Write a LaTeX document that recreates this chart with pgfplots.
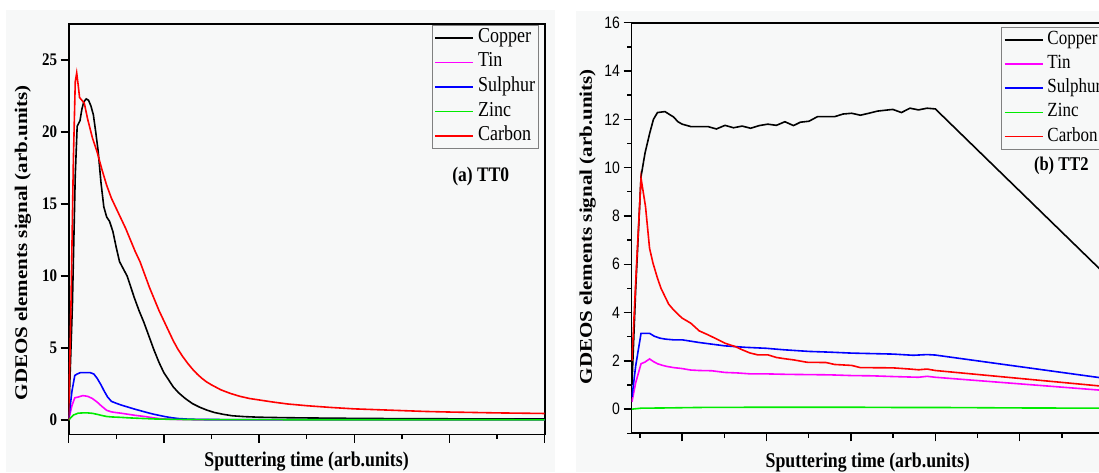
\documentclass[border=0pt]{standalone}
\usepackage{fontspec}
\setmainfont{Liberation Serif}
\newfontfamily\arialfont{Liberation Sans}
\usepackage{graphicx}
\usepackage{pgfplots}
\pgfplotsset{compat=1.18}
\definecolor{bg}{RGB}{247,248,248}
\definecolor{mag}{RGB}{255,0,255}
\definecolor{grn}{RGB}{0,235,0}
\definecolor{blu}{RGB}{0,0,255}
\definecolor{rd}{RGB}{255,0,0}
\newcommand{\vs}[1]{\scalebox{1}[1.18]{#1}}
\newcommand{\hs}[1]{\scalebox{1.18}[1]{#1}}
\pgfplotsset{
  common/.style={
    scale only axis, anchor=south west,
    axis line style={line width=1.8pt},
    tick align=outside, tick pos=left,
    tick style={black, line width=1.4pt},
    major tick length=8pt, minor tick length=4.5pt,
    xticklabels={},
    /pgf/number format/assume math mode=true,
    legend image code/.code={\draw[##1, line width=1.6pt] (0pt,0pt) -- (38pt,0pt);},
    legend cell align=left,
    every axis plot/.append style={line width=1.6pt},
    label style={font=\fontsize{17.8}{20}\selectfont\bfseries},
  },
}
\begin{document}
\begin{tikzpicture}
\useasboundingbox (0pt,0pt) rectangle (1099pt,472pt);
\clip (0pt,0pt) rectangle (1099pt,472pt);
\fill[bg] (6pt,0pt) rectangle (555pt,462pt);
\fill[bg] (576pt,0pt) rectangle (1099pt,461pt);
% ---------------- (a) TT0 ----------------
\begin{axis}[common,
  at={(68.6pt,37.5pt)}, width=476pt, height=410.5pt,
  xmin=0, xmax=100, ymin=-1, ymax=27.5,
  xtick={0,20,...,100}, minor xtick={10,30,...,90},
  ytick={0,5,...,25},
  yticklabel={\vs{\pgfmathprintnumber{\tick}}},
  yticklabel style={font=\fontsize{15}{17}\selectfont\bfseries},
  xlabel={\vs{Sputtering time (arb.units)}},
  xlabel style={at={(axis description cs:0.5,-0.066)}, anchor=center},
  ylabel={\hs{GDEOS elements signal (arb.units)}},
  ylabel style={at={(axis description cs:-0.096,0.467)}, anchor=center},
  legend style={at={(0.987,0.998)}, anchor=north east, draw=gray, fill=none,
    line width=0.8pt, inner xsep=2pt, inner ysep=2pt, row sep=3.6pt, column sep=3pt,
    nodes={inner sep=1pt, text height=14pt, text depth=5pt, font=\fontsize{18}{20}\selectfont}},
]
\addplot[black] coordinates {(0,0) (0.8,8) (1.4,17) (1.8,20.4) (2.4,20.8) (2.8,21.6) (3.2,22.1) (3.7,22.3) (4.2,22.2) (4.7,21.8) (5.2,21.2) (5.7,20.0) (6.2,18.7) (6.8,16.5) (7.4,14.8) (8.0,14.1) (8.6,13.8) (9.3,13.1) (10.0,12.0) (10.7,11.0) (11.5,10.5) (12.3,10.0) (13.0,9.3) (13.8,8.5) (14.8,7.6) (15.8,6.8) (16.8,5.9) (17.9,4.9) (19.0,4.0) (20.0,3.3) (21.0,2.8) (22.0,2.3) (23.1,1.9) (24.5,1.5) (26,1.15) (27.5,0.9) (29,0.7) (30.6,0.53) (32.5,0.4) (34.4,0.3) (37,0.24) (40,0.2) (45,0.17) (50,0.15) (60,0.12) (70,0.1) (80,0.09) (90,0.08) (100,0.08)};
\addlegendentry{\vs{Copper}}
\addplot[mag] coordinates {(0,0) (0.7,1.0) (1.3,1.55) (2,1.6) (3,1.7) (4,1.65) (5,1.5) (6,1.25) (7,0.95) (8,0.68) (9,0.57) (10,0.52) (11,0.48) (12,0.43) (13,0.38) (14,0.33) (15,0.29) (16,0.25) (17,0.2) (18,0.15) (19,0.11) (20,0.08) (22,0.05) (25,0.03) (30,0.02) (100,0.02)};
\addlegendentry{\vs{Tin}}
\addplot[blu] coordinates {(0,0) (0.7,2.0) (1.3,3.1) (1.8,3.2) (2.5,3.3) (3.5,3.3) (4.5,3.3) (5.3,3.2) (6.0,2.9) (6.8,2.45) (7.5,2.0) (8.2,1.6) (9.0,1.3) (10,1.17) (11,1.05) (12,0.95) (13,0.85) (14,0.75) (15,0.66) (16,0.57) (17,0.48) (18,0.4) (19,0.33) (20,0.26) (21,0.2) (22,0.15) (23,0.11) (25,0.07) (27,0.05) (30,0.04) (40,0.03) (60,0.03) (100,0.03)};
\addlegendentry{\vs{Sulphur}}
\addplot[grn] coordinates {(0,0) (1,0.35) (2,0.48) (3,0.5) (4,0.5) (5,0.47) (6,0.4) (7,0.32) (8,0.25) (9,0.22) (11,0.19) (13,0.15) (15,0.12) (18,0.08) (22,0.05) (30,0.03) (100,0.02)};
\addlegendentry{\vs{Zinc}}
\addplot[rd] coordinates {(0,0) (0.5,8) (1.0,18) (1.4,23.5) (1.7,24.1) (2.0,23.3) (2.3,22.4) (2.8,22.2) (3.3,22.0) (4.0,20.9) (5.0,19.6) (6.0,18.6) (7.0,17.4) (8.0,16.3) (9.0,15.4) (10.0,14.7) (11.0,14.0) (12.0,13.3) (13.0,12.5) (14.0,11.7) (15.0,11.0) (16.0,10.1) (17.0,9.2) (18.0,8.4) (19.0,7.6) (20.0,6.9) (21.0,6.2) (22.0,5.5) (23.0,4.9) (24.0,4.4) (25.0,3.95) (26.0,3.55) (27.0,3.2) (28.0,2.9) (29.0,2.65) (30.0,2.45) (32.0,2.1) (34.0,1.85) (36.0,1.65) (38.0,1.5) (40.0,1.4) (43,1.25) (46,1.12) (50,1.0) (55,0.88) (60,0.78) (65,0.72) (70,0.66) (75,0.6) (80,0.56) (85,0.53) (90,0.5) (95,0.48) (100,0.46)};
\addlegendentry{\vs{Carbon}}
\node[font=\fontsize{17.5}{20}\selectfont\bfseries] at (axis description cs:0.866,0.628) {\vs{(a) TT0}};
\end{axis}
% ---------------- (b) TT2 ----------------
\begin{axis}[common,
  at={(631.5pt,38.7pt)}, width=472.5pt, height=410.6pt,
  xmin=40, xmax=600, ymin=-1, ymax=16,
  xtick={100,200,...,600}, minor xtick={50,150,...,550},
  ytick={0,2,...,16}, minor ytick={-1,1,...,15},
  yticklabel={\vs{\pgfmathprintnumber{\tick}}},
  yticklabel style={font=\fontsize{14}{16}\selectfont\arialfont},
  xlabel={\vs{Sputtering time (arb.units)}},
  xlabel style={at={(axis description cs:0.5,-0.072)}, anchor=center},
  ylabel={\hs{GDEOS elements signal (arb.units)}},
  ylabel style={at={(axis description cs:-0.093,0.503)}, anchor=center},
  legend style={at={(0.783,0.990)}, anchor=north west, draw=gray, fill=none,
    line width=0.8pt, inner xsep=2pt, inner ysep=2pt, row sep=3.2pt, column sep=3pt,
    nodes={inner sep=1pt, text height=14pt, text depth=5pt, font=\fontsize{17}{19}\selectfont}},
]
\addplot[black] coordinates {(40.5,1.0) (45,5) (51.3,9.63) (56,10.6) (61.4,11.4) (66,12.0) (70.8,12.28) (79.7,12.32) (85,12.2) (89.8,12.1) (95,11.9) (100,11.8) (110.2,11.7) (120,11.7) (130.5,11.7) (140.6,11.6) (150.8,11.75) (160.9,11.65) (171.1,11.72) (181.2,11.63) (191.4,11.74) (201.5,11.8) (211.7,11.75) (221.8,11.9) (232,11.74) (240.1,11.88) (250.3,11.92) (260.4,12.11) (280.7,12.11) (290.9,12.22) (301,12.25) (311.2,12.17) (321.3,12.25) (331.5,12.34) (349.7,12.41) (359.9,12.28) (370,12.46) (380.2,12.39) (390.3,12.46) (400.1,12.43) (598,5.7)};
\addlegendentry{\vs{Copper}}
\addplot[mag] coordinates {(40.5,0.3) (45,1.1) (51.3,1.88) (56,1.95) (61.4,2.08) (66,1.97) (70.8,1.88) (76,1.82) (81.7,1.77) (90,1.72) (100,1.68) (110,1.62) (120.3,1.6) (135,1.59) (150.8,1.52) (165,1.5) (181.2,1.46) (200,1.46) (225,1.44) (250.3,1.43) (275,1.42) (301,1.39) (325,1.38) (349.7,1.35) (370,1.33) (380.2,1.32) (390.3,1.36) (400,1.32) (598,0.78)};
\addlegendentry{\vs{Tin}}
\addplot[blu] coordinates {(40.5,0.5) (45,1.8) (51.3,3.14) (61.4,3.14) (67,3.02) (73.6,2.94) (80,2.9) (89.8,2.87) (100,2.87) (120,2.76) (150.8,2.62) (175,2.56) (199.5,2.52) (219.8,2.46) (250.3,2.39) (275,2.36) (301,2.32) (325,2.3) (349.7,2.28) (374.1,2.23) (390.3,2.26) (400,2.24) (598,1.29)};
\addlegendentry{\vs{Sulphur}}
\addplot[grn] coordinates {(40.5,0.0) (51.3,0.04) (80,0.05) (120,0.07) (200,0.08) (250,0.08) (300,0.08) (350,0.07) (400,0.07) (500,0.05) (598,0.04)};
\addlegendentry{\vs{Zinc}}
\addplot[rd] coordinates {(40.5,2.0) (46,6) (51.3,9.56) (56.6,8.39) (61.4,6.66) (65.5,6.04) (70.8,5.42) (75,5.0) (79.7,4.66) (84,4.35) (89.8,4.11) (95,3.93) (100,3.77) (110.2,3.56) (120.3,3.24) (130.5,3.08) (140,2.92) (150.8,2.73) (163,2.59) (171.1,2.46) (180,2.33) (189.3,2.25) (201.5,2.25) (211.7,2.14) (221,2.09) (232,2.04) (248.2,1.94) (270.6,1.93) (280.7,1.85) (301,1.81) (311.2,1.72) (349.7,1.71) (370,1.66) (380.2,1.63) (390.3,1.66) (400.1,1.6) (598,0.95)};
\addlegendentry{\vs{Carbon}}
\node[font=\fontsize{16.5}{19}\selectfont\bfseries] at (axis description cs:0.9096,0.652) {\vs{(b) TT2}};
\end{axis}
\end{tikzpicture}
\end{document}
